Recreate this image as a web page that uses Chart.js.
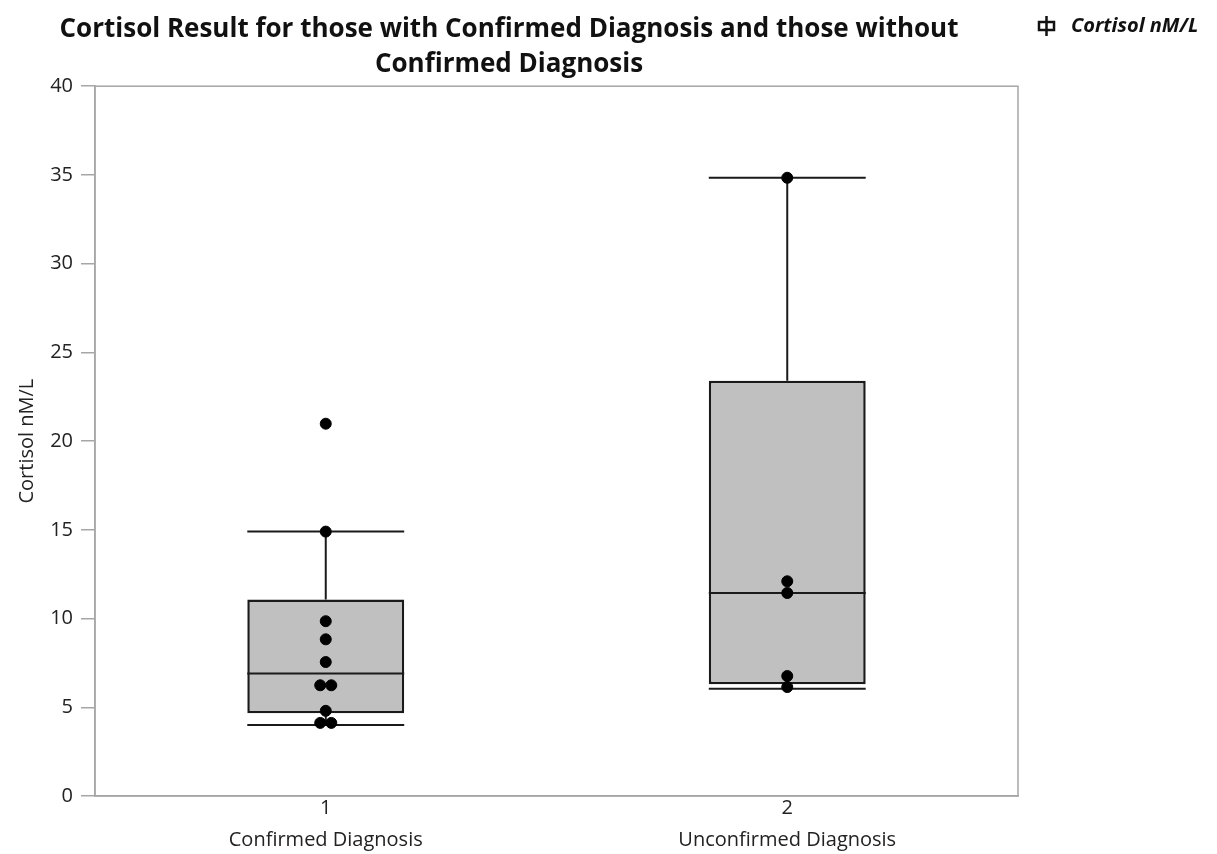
<!DOCTYPE html>
<html>
<head>
<meta charset="utf-8">
<script src="https://cdn.jsdelivr.net/npm/chart.js@4.4.1/dist/chart.umd.min.js"></script>
<style>
	html, body { margin: 0; padding: 0; background: #fff; }
	#wrap { width: 1217px; height: 854px; }
</style>
</head>
<body>
<div id="wrap"><canvas id="grafico_cortisol"></canvas></div>
<script>
// Datos
const categorias = [1, 2];
const etiquetasCat = ['Confirmed Diagnosis', 'Unconfirmed Diagnosis'];
const q1 = [4.67, 6.3];
const q3 = [11.08, 23.4];
const medianas = [6.9, 11.44];
const bigoteBajo = [4.0, 6.04];
const bigoteAlto = [14.9, 34.84];

const puntosConfirmados = [
	{ x: 1, y: 20.98 },
	{ x: 1, y: 14.9 },
	{ x: 1, y: 9.85 },
	{ x: 1, y: 8.83 },
	{ x: 1, y: 7.55 },
	{ x: 0.988, y: 6.24 },
	{ x: 1.012, y: 6.24 },
	{ x: 1, y: 4.8 },
	{ x: 0.988, y: 4.12 },
	{ x: 1.012, y: 4.12 },
];
const puntosNoConfirmados = [
	{ x: 2, y: 34.84 },
	{ x: 2, y: 12.1 },
	{ x: 2, y: 11.44 },
	{ x: 2, y: 6.76 },
	{ x: 2, y: 6.14 },
];

const titulo = ['Cortisol Result for those with Confirmed Diagnosis and those without', 'Confirmed Diagnosis'];
const tituloY = 'Cortisol nM/L';
const leyenda = 'Cortisol nM/L';

const medioAncho = 0.17; // mitad del ancho de la caja en unidades del eje x

// Segmentos: bigotes, tapas y medianas
const segmentos = [];
categorias.forEach((c, i) => {
	segmentos.push({ x: c, y: q3[i] }, { x: c, y: bigoteAlto[i] }, { x: c, y: null });
	segmentos.push({ x: c, y: q1[i] }, { x: c, y: bigoteBajo[i] }, { x: c, y: null });
	segmentos.push({ x: c - medioAncho, y: bigoteAlto[i] }, { x: c + medioAncho, y: bigoteAlto[i] }, { x: c, y: null });
	segmentos.push({ x: c - medioAncho, y: bigoteBajo[i] }, { x: c + medioAncho, y: bigoteBajo[i] }, { x: c, y: null });
	segmentos.push({ x: c - medioAncho, y: medianas[i] }, { x: c + medioAncho, y: medianas[i] }, { x: c, y: null });
});

const cajas = categorias.map((c, i) => ({ x: c, y: [q1[i], q3[i]] }));

// Marco del área y leyenda
const marco = {
	id: 'marco',
	beforeDatasetsDraw(chart) {
		const { ctx, chartArea: a } = chart;
		ctx.save();
		ctx.strokeStyle = '#a6a6a6';
		ctx.lineWidth = 1.5;
		ctx.strokeRect(a.left, a.top, a.right - a.left, a.bottom - a.top);
		ctx.restore();
	},
	afterDraw(chart) {
		const ctx = chart.ctx;
		ctx.save();
		ctx.strokeStyle = '#111';
		ctx.lineWidth = 2.5;
		ctx.strokeRect(1039, 22, 15, 8);
		ctx.beginPath();
		ctx.moveTo(1046.5, 16);
		ctx.lineTo(1046.5, 36);
		ctx.stroke();
		ctx.fillStyle = '#111';
		ctx.font = 'italic bold 20px "Open Sans"';
		ctx.textBaseline = 'middle';
		ctx.fillText(leyenda, 1071, 26);
		ctx.restore();
	},
};

const ctx = document.getElementById('grafico_cortisol').getContext('2d');

new Chart(ctx, {
	type: 'bar',
	data: {
		datasets: [
			{
				type: 'scatter',
				data: puntosConfirmados.concat(puntosNoConfirmados),
				backgroundColor: '#000',
				borderColor: '#000',
				pointRadius: 5.5,
				order: 0,
			},
			{
				type: 'line',
				data: segmentos,
				borderColor: '#1a1a1a',
				borderWidth: 2,
				pointRadius: 0,
				spanGaps: false,
				fill: false,
				order: 1,
			},
			{
				type: 'bar',
				data: cajas,
				backgroundColor: '#c0c0c0',
				borderColor: '#1a1a1a',
				borderWidth: 2.5,
				borderSkipped: false,
				barPercentage: 0.34,
				categoryPercentage: 1,
				order: 2,
			},
		],
	},
	options: {
		responsive: true,
		maintainAspectRatio: false,
		animation: false,
		layout: { padding: { left: 0, right: 199, top: 12, bottom: 0 } },
		plugins: {
			legend: { display: false },
			tooltip: { enabled: false },
			title: {
				display: true,
				text: titulo,
				color: '#111',
				font: { family: 'Open Sans', size: 26, weight: 'bold', lineHeight: 1.35 },
				padding: { top: 0, bottom: 4 },
			},
		},
		scales: {
			x: {
				type: 'linear',
				min: 0.5,
				max: 2.5,
				offset: false,
				afterBuildTicks: (eje) => {
					eje.ticks = categorias.map((v) => ({ value: v }));
				},
				afterFit: (eje) => {
					eje.height = 58;
				},
				ticks: {
					color: '#222',
					font: { family: 'Open Sans', size: 20, lineHeight: 1.6 },
					padding: -4,
					maxRotation: 0,
					callback: (v) => {
						const i = categorias.indexOf(v);
						return i >= 0 ? [String(v), etiquetasCat[i]] : '';
					},
				},
				grid: { display: false, tickLength: 0 },
				border: { color: '#a6a6a6', width: 1.5 },
			},
			y: {
				min: 0,
				max: 40,
				ticks: {
					stepSize: 5,
					color: '#222',
					font: { family: 'Open Sans', size: 20 },
					padding: 8,
				},
				afterFit: (eje) => {
					eje.width = 95;
				},
				title: {
					display: true,
					text: tituloY,
					color: '#222',
					font: { family: 'Open Sans', size: 20 },
					padding: { top: 15, bottom: 0 },
				},
				grid: {
					drawOnChartArea: false,
					tickLength: 14,
					color: '#a6a6a6',
					lineWidth: 1.5,
				},
				border: { color: '#a6a6a6', width: 1.5 },
			},
		},
	},
	plugins: [marco],
});
</script>
</body>
</html>
